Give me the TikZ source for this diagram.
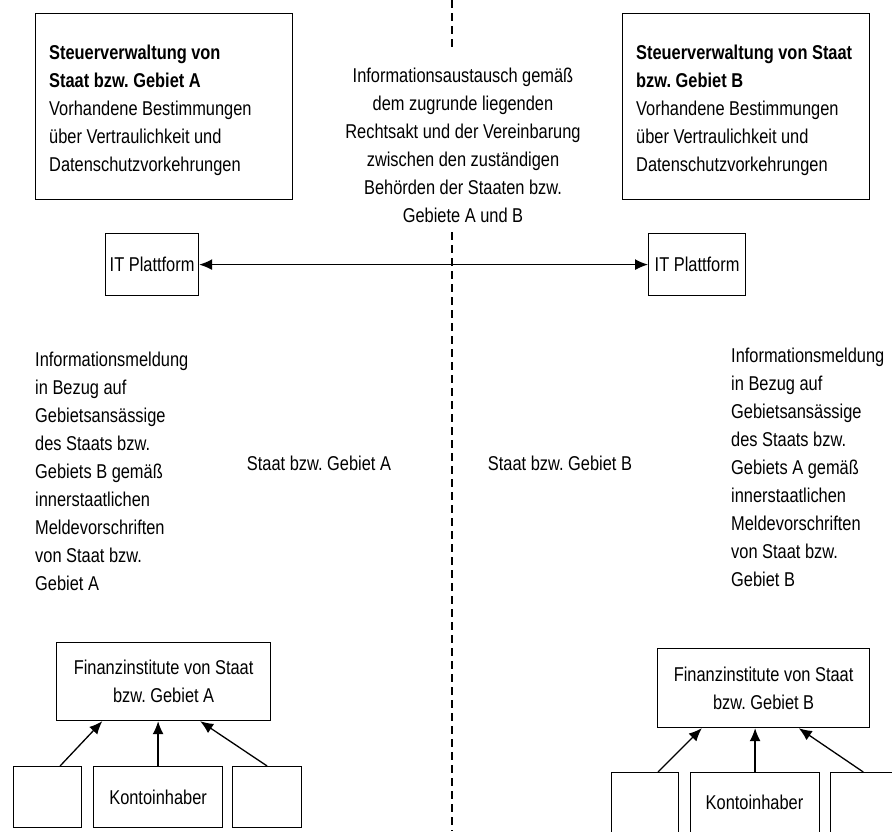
\documentclass[tikz,border=0pt]{standalone}
\usepackage{fontspec}
\setmainfont{Liberation Sans}[FakeStretch=0.82]
\usetikzlibrary{arrows.meta,calc}
\frenchspacing

\begin{document}
\begin{tikzpicture}[x=1pt,y=-1pt,
  box/.style={draw, line width=1.2pt, inner sep=0pt},
  txt/.style={font=\fontsize{20}{28}\selectfont},
  para/.style={txt, align=left, anchor=north west, inner sep=0pt},
  link/.style={-{Latex[length=13pt,width=11pt]}, line width=1.3pt},
  divider/.style={dashed, dash pattern=on 8pt off 5pt, line width=1.2pt}]

\clip (0,0) rectangle (892,831);

% border line between the two jurisdictions
\coordinate (dtop) at (452,0);
\coordinate (dgap1) at (452,50);
\coordinate (dgap2) at (452,232);
\coordinate (dbot) at (452,831);
\draw[divider] (dtop) -- (dgap1) (dgap2) -- (dbot);

% tax administrations
\node[box, minimum width=257pt, minimum height=186pt, anchor=north west] (admA) at (35,13) {};
\node[para] (admAtext) at (49,45)
  {\textbf{Steuerverwaltung von}\\\textbf{Staat bzw. Gebiet A}\\Vorhandene Bestimmungen\\über Vertraulichkeit und\\Datenschutzvorkehrungen};
\node[box, minimum width=247pt, minimum height=186pt, anchor=north west] (admB) at (622,13) {};
\node[para] (admBtext) at (636,45)
  {\textbf{Steuerverwaltung von Staat}\\\textbf{bzw. Gebiet B}\\Vorhandene Bestimmungen\\über Vertraulichkeit und\\Datenschutzvorkehrungen};

% exchange description
\node[txt, align=center] (info) at (463,145)
  {Informationsaustausch gemäß\\dem zugrunde liegenden\\Rechtsakt und der Vereinbarung\\zwischen den zuständigen\\Behörden der Staaten bzw.\\Gebiete A und B};

% IT platforms
\node[box, txt, minimum width=93pt, minimum height=62pt, anchor=north west] (itA) at (105,233) {IT Plattform};
\node[box, txt, minimum width=97pt, minimum height=62pt, anchor=north west] (itB) at (648,233) {IT Plattform};
\draw[link, {Latex[length=13pt,width=11pt]}-{Latex[length=13pt,width=11pt]}] (itA) -- (itB);

% reporting notes
\node[para] (repA) at (35,352)
  {Informationsmeldung\\in Bezug auf\\Gebietsansässige\\des Staats bzw.\\Gebiets B gemäß\\innerstaatlichen\\Meldevorschriften\\von Staat bzw.\\Gebiet A};
\node[para] (repB) at (731,348)
  {Informationsmeldung\\in Bezug auf\\Gebietsansässige\\des Staats bzw.\\Gebiets A gemäß\\innerstaatlichen\\Meldevorschriften\\von Staat bzw.\\Gebiet B};

\node[txt] (lblA) at (319,463) {Staat bzw. Gebiet A};
\node[txt] (lblB) at (560,463) {Staat bzw. Gebiet B};

% financial institutions, side A
\node[box, txt, align=center, minimum width=214pt, minimum height=78pt, anchor=north west] (fiA) at (56,642)
  {Finanzinstitute von Staat\\bzw. Gebiet A};
\node[box, minimum width=68pt, minimum height=61pt, anchor=north west] (a1) at (13,766) {};
\node[box, txt, minimum width=129pt, minimum height=61pt, anchor=north west] (a2) at (93,766) {Kontoinhaber};
\node[box, minimum width=69pt, minimum height=61pt, anchor=north west] (a3) at (232,766) {};
\draw[link] ($(a1.north west)!0.68!(a1.north east)$) -- ($(fiA.south west)!0.215!(fiA.south east)$);
\draw[link] (a2.north) -- (fiA.south -| a2.north);
\draw[link] ($(a3.north west)!0.5!(a3.north east)$) -- ($(fiA.south west)!0.67!(fiA.south east)$);

% financial institutions, side B
\node[box, txt, align=center, minimum width=212pt, minimum height=79pt, anchor=north west] (fiB) at (657,648)
  {Finanzinstitute von Staat\\bzw. Gebiet B};
\node[box, minimum width=67pt, minimum height=70pt, anchor=north west] (b1) at (611,772) {};
\node[box, minimum width=129pt, minimum height=70pt, anchor=north west] (b2) at (690,772) {};
\node[txt] (b2t) at (754.5,802) {Kontoinhaber};
\node[box, minimum width=80pt, minimum height=70pt, anchor=north west] (b3) at (830,772) {};
\draw[link] ($(b1.north west)!0.69!(b1.north east)$) -- ($(fiB.south west)!0.21!(fiB.south east)$);
\draw[link] (b2.north) -- (fiB.south -| b2.north);
\draw[link] ($(b3.north west)!0.41!(b3.north east)$) -- ($(fiB.south west)!0.665!(fiB.south east)$);
\end{tikzpicture}
\end{document}
